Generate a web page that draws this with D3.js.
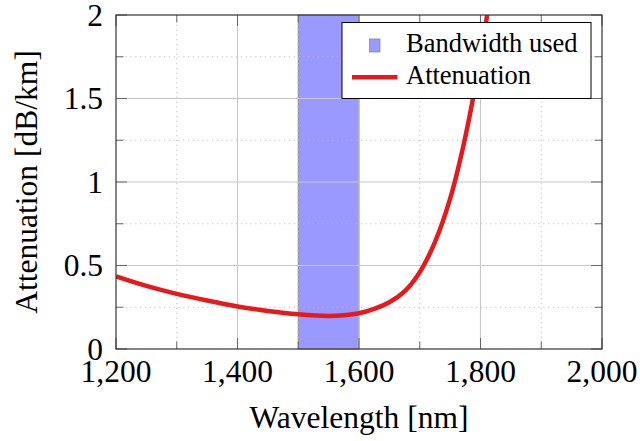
<!DOCTYPE html>
<html>
<head>
<meta charset="utf-8">
<script src="https://cdn.jsdelivr.net/npm/d3@7"></script>
<style>
  html, body { margin: 0; padding: 0; background: #fff; }
  svg { display: block; }
</style>
</head>
<body>
<svg id="chart" width="640" height="441" font-family="'Liberation Serif', 'Times New Roman', Times, serif"></svg>
<script>
// ---- data ----
const wavelengths = [1200, 1250, 1300, 1350, 1400, 1450, 1500, 1550, 1575, 1600, 1625, 1650, 1675, 1700, 1725, 1750, 1775, 1800, 1815];
const attenuation = [0.435, 0.378, 0.33, 0.29, 0.255, 0.228, 0.208, 0.198, 0.202, 0.214, 0.24, 0.28, 0.345, 0.46, 0.64, 0.9, 1.27, 1.75, 2.1];
const bandRange = [1500, 1600];
const xTicks = [1200, 1400, 1600, 1800, 2000];
const xMinorTicks = [1300, 1500, 1700, 1900];
const yTicks = [0, 0.5, 1, 1.5, 2];
const yMinorTicks = [0.25, 0.75, 1.25, 1.75];
const legendLabels = ["Bandwidth used", "Attenuation"];
const xLabel = "Wavelength [nm]";
const yLabel = "Attenuation [dB/km]";

// ---- layout ----
const L = 116, R = 602, T = 15, B = 349;
const svg = d3.select("#chart");
const x = d3.scaleLinear().domain([1200, 2000]).range([L, R]);
const y = d3.scaleLinear().domain([0, 2]).range([B, T]);
const fmt = d3.format(",");

svg.append("defs").append("clipPath").attr("id", "plotclip")
  .append("rect").attr("x", L).attr("y", T).attr("width", R - L).attr("height", B - T);

// band
svg.append("rect")
  .attr("x", x(bandRange[0])).attr("y", T)
  .attr("width", x(bandRange[1]) - x(bandRange[0])).attr("height", B - T)
  .attr("fill", "#9999ff").attr("stroke", "#8a8a8a").attr("stroke-width", 1);

// grid
const grid = svg.append("g");
grid.selectAll(".gxm").data(xMinorTicks).join("line")
  .attr("x1", d => x(d)).attr("x2", d => x(d)).attr("y1", T).attr("y2", B)
  .attr("stroke", "#b8b8b8").attr("stroke-width", 0.9).attr("stroke-dasharray", "1.2 3.6");
grid.selectAll(".gym").data(yMinorTicks).join("line")
  .attr("y1", d => y(d)).attr("y2", d => y(d)).attr("x1", L).attr("x2", R)
  .attr("stroke", "#b8b8b8").attr("stroke-width", 0.9).attr("stroke-dasharray", "1.2 3.6");
grid.selectAll(".gx").data(xTicks.slice(1, -1)).join("line")
  .attr("x1", d => x(d)).attr("x2", d => x(d)).attr("y1", T).attr("y2", B)
  .attr("stroke", "#c8c8c8").attr("stroke-width", 1.1);
grid.selectAll(".gy").data(yTicks.slice(1, -1)).join("line")
  .attr("y1", d => y(d)).attr("y2", d => y(d)).attr("x1", L).attr("x2", R)
  .attr("stroke", "#c8c8c8").attr("stroke-width", 1.1);

// curve
const line = d3.line().x((d, i) => x(wavelengths[i])).y(d => y(d)).curve(d3.curveCatmullRom.alpha(0.5));
svg.append("path").datum(attenuation)
  .attr("d", line).attr("fill", "none").attr("stroke", "#e41a1c")
  .attr("stroke-width", 4.5).attr("clip-path", "url(#plotclip)");

// ticks (inward, all four sides)
const tk = svg.append("g").attr("stroke", "#666").attr("stroke-width", 1);
const majL = 11, minL = 7.5;
xTicks.forEach(d => {
  tk.append("line").attr("x1", x(d)).attr("x2", x(d)).attr("y1", B).attr("y2", B - majL);
  tk.append("line").attr("x1", x(d)).attr("x2", x(d)).attr("y1", T).attr("y2", T + majL);
});
xMinorTicks.forEach(d => {
  tk.append("line").attr("x1", x(d)).attr("x2", x(d)).attr("y1", B).attr("y2", B - minL);
  tk.append("line").attr("x1", x(d)).attr("x2", x(d)).attr("y1", T).attr("y2", T + minL);
});
yTicks.forEach(d => {
  tk.append("line").attr("y1", y(d)).attr("y2", y(d)).attr("x1", L).attr("x2", L + majL);
  tk.append("line").attr("y1", y(d)).attr("y2", y(d)).attr("x1", R).attr("x2", R - majL);
});
yMinorTicks.forEach(d => {
  tk.append("line").attr("y1", y(d)).attr("y2", y(d)).attr("x1", L).attr("x2", L + minL);
  tk.append("line").attr("y1", y(d)).attr("y2", y(d)).attr("x1", R).attr("x2", R - minL);
});

// frame
svg.append("rect").attr("x", L).attr("y", T).attr("width", R - L).attr("height", B - T)
  .attr("fill", "none").attr("stroke", "#333").attr("stroke-width", 1.2);

// tick labels
svg.append("g").selectAll("text").data(xTicks).join("text")
  .attr("x", d => x(d)).attr("y", 382).attr("text-anchor", "middle")
  .attr("font-size", 31.5).text(d => fmt(d));
svg.append("g").selectAll("text").data(yTicks).join("text")
  .attr("x", 103).attr("y", d => y(d)).attr("dy", "0.34em").attr("text-anchor", "end")
  .attr("font-size", 31.5).text(d => d3.format("")(d));

// axis labels
svg.append("text").attr("x", (L + R) / 2).attr("y", 428).attr("text-anchor", "middle")
  .attr("font-size", 31.5).text(xLabel);
svg.append("text").attr("transform", `translate(37,${(T + B) / 2}) rotate(-90)`)
  .attr("text-anchor", "middle").attr("font-size", 31.5).text(yLabel);

// legend
const lg = svg.append("g");
lg.append("rect").attr("x", 342).attr("y", 22.5).attr("width", 249).attr("height", 76)
  .attr("fill", "#fff").attr("stroke", "#000").attr("stroke-width", 1);
lg.append("rect").attr("x", 369.5).attr("y", 39).attr("width", 10.5).attr("height", 13)
  .attr("fill", "#9999ff").attr("stroke", "#8a8a8a").attr("stroke-width", 0.8);
lg.append("line").attr("x1", 352).attr("x2", 397.5).attr("y1", 77.3).attr("y2", 77.3)
  .attr("stroke", "#e41a1c").attr("stroke-width", 4.5);
lg.append("text").attr("x", 406).attr("y", 51.5).attr("font-size", 26.5).text(legendLabels[0]);
lg.append("text").attr("x", 406).attr("y", 84).attr("font-size", 26.5).text(legendLabels[1]);
</script>
</body>
</html>
